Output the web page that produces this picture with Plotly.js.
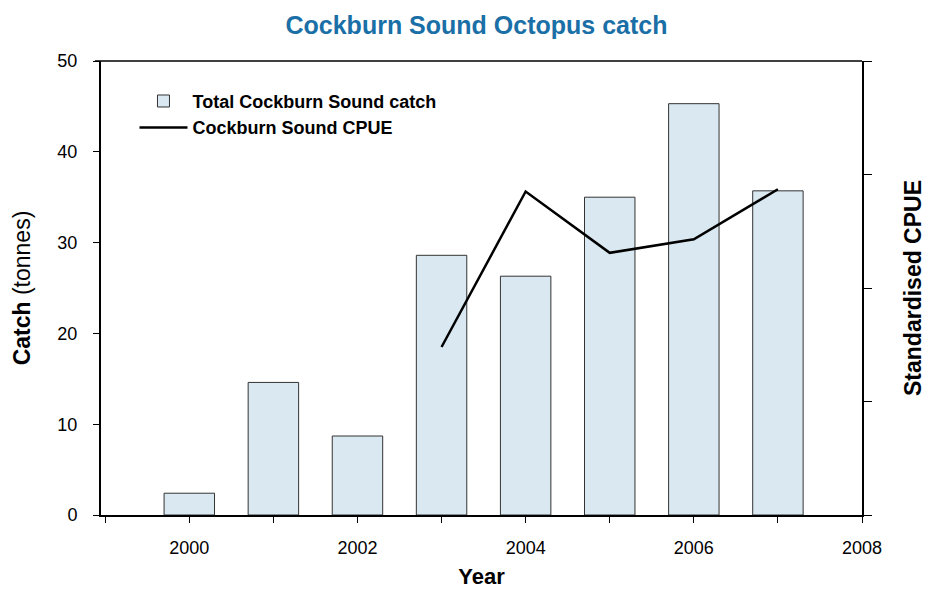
<!DOCTYPE html>
<html>
<head>
<meta charset="utf-8">
<script src="https://cdn.plot.ly/plotly-3.0.1.min.js"></script>
<style>html,body{margin:0;padding:0;background:#fff;}#chart{width:927px;height:589px;}</style>
</head>
<body>
<div id="chart"></div>
<script>
const years = [2000, 2001, 2002, 2003, 2004, 2005, 2006, 2007];
const catchTonnes = [2.4, 14.6, 8.7, 28.6, 26.3, 35.0, 45.3, 35.7];
const cpueYears = [2003, 2004, 2005, 2006, 2007];
const cpue = [1.48, 2.85, 2.31, 2.43, 2.87];
const xTickVals = [2000, 2002, 2004, 2006, 2008];
const xTickText = ['2000', '2002', '2004', '2006', '2008'];

const font = 'Liberation Sans, Arial, sans-serif';

const traces = [
  {
    type: 'bar', name: 'Total Cockburn Sound catch',
    x: years, y: catchTonnes, width: 0.6,
    marker: {color: '#d9e8f1', line: {color: '#333333', width: 1}},
    xaxis: 'x', yaxis: 'y'
  },
  {
    type: 'scatter', mode: 'lines', name: 'Cockburn Sound CPUE',
    x: cpueYears, y: cpue,
    line: {color: '#000000', width: 2.5},
    xaxis: 'x', yaxis: 'y2'
  }
];

const layout = {
  width: 927, height: 589,
  margin: {l: 101, r: 65, t: 61, b: 74},
  paper_bgcolor: '#ffffff', plot_bgcolor: '#ffffff',
  font: {family: font, color: '#000', size: 18},
  title: {text: '<b>Cockburn Sound Octopus catch</b>', font: {family: font, size: 25, color: '#1a6fa6'}, x: 0.514, xanchor: 'center', y: 0.957, yanchor: 'middle'},
  showlegend: true,
  legend: {x: 0.044, y: 0.952, xanchor: 'left', yanchor: 'top', bgcolor: 'rgba(0,0,0,0)', font: {family: font, size: 18, weight: 'bold'}, itemwidth: 48, tracegroupgap: 0},
  xaxis: {
    range: [1998.95, 2008], tickmode: 'array', tickvals: xTickVals, ticktext: xTickText,
    ticks: 'outside', ticklen: 6, tickwidth: 1, tickcolor: '#000',
    minor: {dtick: 1, tick0: 1999, ticks: 'outside', ticklen: 6, tickwidth: 1, tickcolor: '#000'},
    showline: true, linecolor: '#000', linewidth: 2, showgrid: false, zeroline: false,
    tickfont: {size: 18}, ticklabelstandoff: 9,
    title: {text: '<b>Year</b>', font: {size: 22}, standoff: 15}
  },
  yaxis: {
    range: [0, 50], dtick: 10, ticks: 'outside', ticklen: 6, tickwidth: 1, tickcolor: '#000',
    showline: true, linecolor: '#000', linewidth: 2, showgrid: false, zeroline: false,
    tickfont: {size: 18}, ticklabelstandoff: 12,
    title: {text: '<b>Catch</b> (tonnes)', font: {size: 23}, standoff: 20}
  },
  yaxis2: {
    overlaying: 'y', side: 'right', range: [0, 4], dtick: 1,
    ticks: 'outside', ticklen: 8, tickwidth: 1, tickcolor: '#000',
    showticklabels: false, showline: true, linecolor: '#000', linewidth: 1.5,
    showgrid: false, zeroline: false
  },
  shapes: [
    {type: 'line', xref: 'paper', yref: 'paper', x0: -0.008, x1: 1, y0: 1, y1: 1, line: {color: '#000', width: 1.5}}
  ],
  annotations: [
    {text: '<b>Standardised CPUE</b>', xref: 'paper', yref: 'paper', x: 1.067, y: 0.5, showarrow: false, textangle: -90, font: {family: font, size: 23}, xanchor: 'center', yanchor: 'middle'}
  ]
};

Plotly.newPlot('chart', traces, layout, {displayModeBar: false, staticPlot: true});
</script>
</body>
</html>
